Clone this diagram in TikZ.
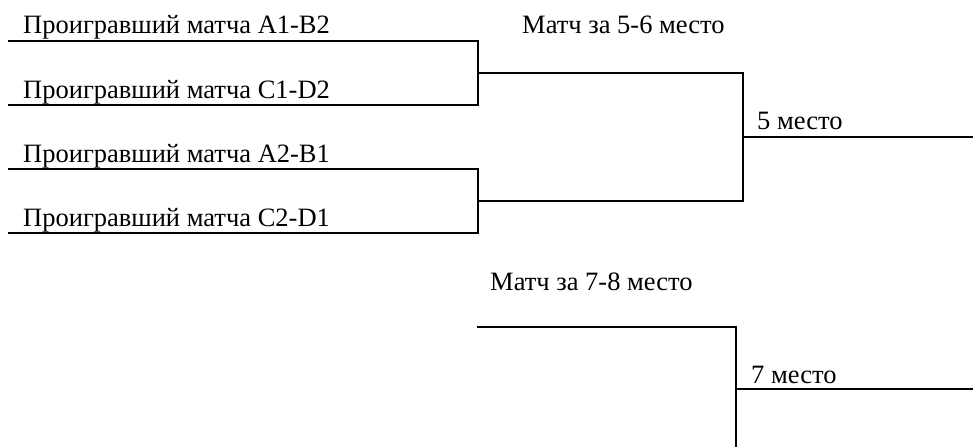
\documentclass[tikz,border=0pt]{standalone}
\usepackage{fontspec}
\setmainfont{Liberation Serif}
\tikzset{
  team/.style={anchor=base west, inner sep=0pt, font=\fontsize{26.5}{31}\selectfont},
  bracket/.style={line width=1.5pt}
}
\begin{document}
\begin{tikzpicture}[x=1pt,y=-1pt]
                    \useasboundingbox (0,0) rectangle (973,447);
                    % matches for 5-6
                    \coordinate (P1) at (8,41);
                    \coordinate (P2) at (8,105);
                    \coordinate (P3) at (8,169);
                    \coordinate (P4) at (8,233);
                    \coordinate (J1) at (478,73);
                    \coordinate (J2) at (478,201);
                    \coordinate (F5) at (743,137);
                    \coordinate (E5) at (973,137);
                    % match for 7-8
                    \coordinate (Q1) at (477,327);
                    \coordinate (F7) at (736,389);
                    \coordinate (E7) at (973,389);
                    \coordinate (B7) at (736,447);
                    \node[team] (t1) at (23,33) {Проигравший матча A1-B2};
                    \node[team] (t2) at (23,98) {Проигравший матча C1-D2};
                    \node[team] (t3) at (23,162) {Проигравший матча A2-B1};
                    \node[team] (t4) at (23,226) {Проигравший матча C2-D1};
                    \node[team] (m56) at (522,33) {Матч за 5-6 место};
                    \node[team] (r5) at (757,129) {5 место};
                    \node[team] (m78) at (490,290) {Матч за 7-8 место};
                    \node[team] (r7) at (751,383) {7 место};
                    \draw[bracket] (P1) -| (J1) |- (P2);
                    \draw[bracket] (P3) -| (J2) |- (P4);
                    \draw[bracket] (J1) -| (F5) |- (J2);
                    \draw[bracket] (F5) -- (E5);
                    \draw[bracket] (Q1) -| (B7);
                    \draw[bracket] (F7) -- (E7);
                \end{tikzpicture}
\end{document}
